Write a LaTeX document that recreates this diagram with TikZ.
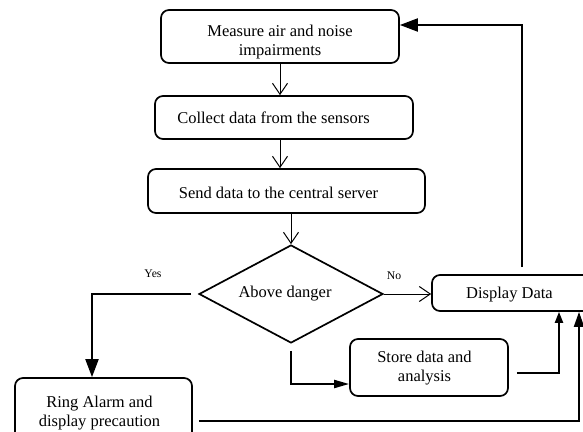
\documentclass[tikz,border=0pt]{standalone}
\usepackage{fontspec}
\setmainfont{Liberation Serif}
\usetikzlibrary{arrows.meta,shapes.geometric}
\tikzset{
  box/.style={draw, line width=1.7pt, rounded corners=8pt, inner sep=0pt, align=center},
  txt/.style={inner sep=0pt, align=center, font=\fontsize{16.5}{19}\selectfont},
  small/.style={inner sep=0pt, font=\fontsize{11.7}{13}\selectfont},
  thinarrow/.style={line width=1pt, -{Straight Barb[length=11pt,width=15pt,line width=1pt]}},
  thickline/.style={line width=2pt},
}
\begin{document}
\begin{tikzpicture}[x=1pt,y=-1pt]
\useasboundingbox (0,0) rectangle (583,431);
\clip (0,0) rectangle (583,431);
% boxes
\node[box, minimum width=238pt, minimum height=53pt] (b1) at (280,36.5) {};
\node[txt] (t1) at (280,42.5) {Measure air and noise\\impairments};
\node[box, minimum width=258pt, minimum height=43pt] (b2) at (284,117.5) {};
\node[txt] (t2) at (273.5,118) {Collect data from the sensors};
\node[box, minimum width=277pt, minimum height=44pt] (b3) at (286.5,191) {};
\node[txt] (t3) at (278.5,193) {Send data to the central server};
\node[draw, line width=1.7pt, diamond, aspect=1.88, minimum width=184pt, minimum height=98pt, inner sep=0pt] (d) at (291,294) {};
\node[txt] (td) at (285,294) {Above danger};
\node[box, minimum width=162pt, minimum height=36pt] (disp) at (513,293) {};
\node[txt] (tdisp) at (509.5,295) {Display Data};
\node[box, minimum width=158pt, minimum height=57pt] (store) at (429,367.5) {};
\node[txt] (tstore) at (424.5,368) {Store data and\\analysis};
\node[box, minimum width=177pt, minimum height=67pt] (ring) at (103.5,411.5) {};
\node[txt] (tring) at (99.5,413) {Ring Alarm and\\display precaution};
% labels
\node[small] (yes) at (153,274) {Yes};
\node[small] (no) at (394,276) {No};
% thin arrows
\draw[thinarrow] (b1.south) -- (b1.south |- b2.north);
\draw[thinarrow] (b1.south |- b2.south) -- (b1.south |- b3.north);
\draw[thinarrow] (d.north |- b3.south) -- (d.north);
\draw[thinarrow] (d.east) -- (disp.west |- d.east);
% thick arrows
\draw[thickline, -{Triangle[length=18pt,width=13pt]}] ([xshift=-7pt]d.west) -| ([xshift=-11.5pt]ring.north);
\draw[thickline, -{Triangle[length=15pt,width=8pt]}] ([yshift=-7pt]d.south) |- ([yshift=-16.5pt]store.west);
\draw[thickline, -{Triangle[length=11pt,width=8pt]}] ([xshift=8pt,yshift=-5.5pt]store.east) -| ([xshift=46pt]disp.south);
\draw[thickline, -{Triangle[length=15pt,width=10pt]}] ([xshift=6pt,yshift=-9.5pt]ring.east) -| ([xshift=66pt]disp.south);
\draw[thickline, -{Triangle[length=18pt,width=13pt]}] ([xshift=9pt,yshift=7pt]disp.north) |- ([yshift=11.5pt]b1.east);
\end{tikzpicture}
\end{document}
